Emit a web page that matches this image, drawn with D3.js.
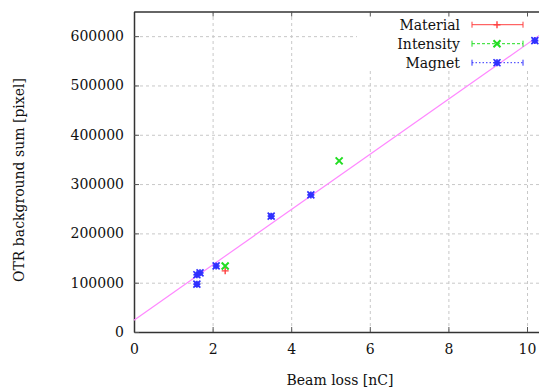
<!DOCTYPE html>
<html>
<head>
<meta charset="utf-8">
<script src="https://cdn.jsdelivr.net/npm/d3@7"></script>
<style>
  body { margin: 0; background: #fff; }
  svg { display: block; font-family: "DejaVu Serif", "Liberation Serif", serif; }
  .grid line { stroke: #c8c8c8; stroke-dasharray: 3,3; }
</style>
</head>
<body>
<svg class="beamLoss" width="539" height="389"></svg>
<script>
// series
const materialX = [2.32]
const materialY = [124000]
const intensityX = [2.32, 5.22]
const intensityY = [134000, 347000]
const magnetX = [1.60, 1.68, 1.60, 2.09, 3.49, 4.50, 10.2]
const magnetY = [116000, 120000, 97000, 134000, 235000, 278000, 591000]

// linear fit: intercept, slope
const fitParams = [24000, 56000]

const xTicks = [0, 2, 4, 6, 8, 10]
const yTicks = [0, 100000, 200000, 300000, 400000, 500000, 600000]
const legendLabels = ['Material', 'Intensity', 'Magnet']

const svg = d3.select('svg.beamLoss')

const plotLeft = 134, plotBottom = 332, plotTop = 11.5
const xScale = d3.scaleLinear().domain([0, 12]).range([plotLeft, plotLeft + 12 * 39.3])
const yScale = d3.scaleLinear().domain([0, 650000]).range([plotBottom, plotTop])

// grid lines
svg.append('g')
  .attr('class', 'grid')
  .attr('transform', `translate(0, ${plotBottom})`)
  .call(d3.axisBottom(xScale).tickValues(xTicks.slice(1)).tickSize(-(plotBottom - plotTop)).tickFormat(''))
  .call(g => g.select('.domain').remove())
svg.append('g')
  .attr('class', 'grid')
  .attr('transform', `translate(${plotLeft}, 0)`)
  .call(d3.axisLeft(yScale).tickValues(yTicks.slice(1)).tickSize(-(539 - plotLeft)).tickFormat(''))
  .call(g => g.select('.domain').remove())

// key box blanks the grid
svg.append('rect')
  .attr('x', 357).attr('y', plotTop + 1)
  .attr('width', 200).attr('height', 58)
  .style('fill', '#fff')

// axes with inward ticks
const xAxis = svg.append('g')
  .attr('transform', `translate(0, ${plotBottom})`)
  .call(d3.axisBottom(xScale).tickValues(xTicks).tickSizeInner(-5).tickSizeOuter(0).tickPadding(12))
const xAxisTop = svg.append('g')
  .attr('transform', `translate(0, ${plotTop})`)
  .call(d3.axisTop(xScale).tickValues(xTicks).tickSizeInner(-5).tickSizeOuter(0).tickFormat(''))
const yAxis = svg.append('g')
  .attr('transform', `translate(${plotLeft}, 0)`)
  .call(d3.axisLeft(yScale).tickValues(yTicks).tickSizeInner(-5).tickSizeOuter(0).tickPadding(10).tickFormat(d3.format('d')))

for (const g of [xAxis, xAxisTop, yAxis]) {
  g.select('.domain').style('stroke', '#333').style('stroke-width', 1.5)
  g.selectAll('.tick line').style('stroke', '#555')
  g.selectAll('.tick text').style('font-size', '14px').style('fill', '#111')
    .style('font-family', '"DejaVu Serif", serif')
}
xAxis.selectAll('.tick line').filter(d => d === 0).remove()

// fit line
const fitLine = d3.line()
  .x(d => xScale(d))
  .y(d => yScale(fitParams[0] + fitParams[1] * d))
svg.append('path')
  .datum(xScale.domain())
  .attr('d', fitLine)
  .style('fill', 'none')
  .style('stroke', '#ff88ff')
  .style('stroke-width', 1.2)

// markers
function marker(g, kind, color, x, y) {
  const m = g.append('g').attr('transform', `translate(${x}, ${y})`)
    .style('stroke', color).style('fill', 'none')
  const s = 3.5
  if (kind === 'plus') {
    m.append('path').attr('d', `M${-s},0H${s}M0,${-s}V${s}`).style('stroke-width', 1.4)
  } else if (kind === 'cross') {
    m.append('path').attr('d', `M${-s},${-s}L${s},${s}M${-s},${s}L${s},${-s}`).style('stroke-width', 2)
  } else {
    m.append('rect').attr('x', -3).attr('y', -3).attr('width', 6).attr('height', 6)
      .style('fill', color).style('opacity', 0.55).style('stroke', 'none')
    m.append('path').attr('d', `M${-s},0H${s}M0,${-s}V${s}M${-s},${-s}L${s},${s}M${-s},${s}L${s},${-s}`)
      .style('stroke-width', 1.6)
  }
}

const series = [
  { name: legendLabels[0], xs: materialX, ys: materialY, color: '#ff4040', kind: 'plus', dash: null },
  { name: legendLabels[1], xs: intensityX, ys: intensityY, color: '#22dd22', kind: 'cross', dash: '3,2' },
  { name: legendLabels[2], xs: magnetX, ys: magnetY, color: '#3030ff', kind: 'star', dash: '1.5,2' }
]

const points = svg.append('g')
series.forEach(s => {
  s.xs.forEach((x, i) => marker(points, s.kind, s.color, xScale(x), yScale(s.ys[i])))
})

// legend
const legend = svg.append('g')
series.forEach((s, i) => {
  const y = 24.7 + i * 19
  legend.append('text')
    .attr('x', 460).attr('y', y + 5)
    .attr('text-anchor', 'end')
    .style('font-size', '14px')
    .style('fill', '#111')
    .text(s.name)
  legend.append('line')
    .attr('x1', 472).attr('x2', 523).attr('y1', y).attr('y2', y)
    .style('stroke', s.color).style('stroke-width', 1)
    .style('stroke-dasharray', s.dash)
  legend.append('path')
    .attr('d', `M472,${y - 3}V${y + 3}M523,${y - 3}V${y + 3}`)
    .style('stroke', s.color).style('stroke-width', 1)
  marker(legend, s.kind, s.color, 497, y)
})

// axis labels
svg.append('text')
  .attr('x', 340).attr('y', 385)
  .attr('text-anchor', 'middle')
  .style('font-size', '14px')
  .style('fill', '#111')
  .text('Beam loss [nC]')

svg.append('text')
  .attr('transform', 'translate(24, 180) rotate(-90)')
  .attr('text-anchor', 'middle')
  .style('font-size', '14px')
  .style('fill', '#111')
  .text('OTR background sum [pixel]')
</script>
</body>
</html>
